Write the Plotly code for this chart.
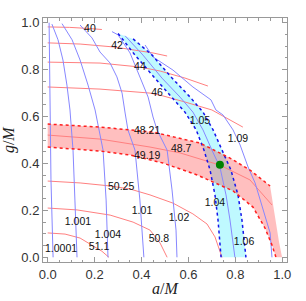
import plotly.graph_objects as go

# ---------------- red contours (a/M, g/M) ----------------
r40_a = [0.0, 0.094, 0.180, 0.231]
r40_g = [0.982, 0.980, 0.975, 0.971]
r42_a = [0.0, 0.138, 0.287, 0.449, 0.509]
r42_g = [0.914, 0.909, 0.896, 0.871, 0.858]
r44_a = [0.0, 0.223, 0.393, 0.479, 0.585, 0.683]
r44_g = [0.832, 0.828, 0.811, 0.794, 0.764, 0.730]
r46_a = [0.0, 0.223, 0.436, 0.491, 0.585, 0.700, 0.832]
r46_g = [0.726, 0.717, 0.700, 0.688, 0.662, 0.628, 0.555]
r4821_a = [0.0, 0.223, 0.449, 0.649, 0.777, 0.862, 0.948]
r4821_g = [0.568, 0.555, 0.534, 0.487, 0.423, 0.372, 0.304]
r487_a = [0.0, 0.223, 0.436, 0.564, 0.734, 0.862, 0.956]
r487_g = [0.521, 0.504, 0.470, 0.445, 0.393, 0.330, 0.223]
r4919_a = [0.0, 0.223, 0.351, 0.491, 0.637, 0.734, 0.790, 0.875, 0.926, 0.956, 0.973]
r4919_g = [0.470, 0.453, 0.436, 0.402, 0.351, 0.308, 0.283, 0.214, 0.125, 0.052, 0.0]
r5025_a = [0.0, 0.138, 0.266, 0.351, 0.436, 0.534, 0.619, 0.679, 0.713, 0.743]
r5025_g = [0.325, 0.317, 0.304, 0.291, 0.266, 0.231, 0.185, 0.142, 0.087, 0.0]
r508_a = [0.0, 0.125, 0.266, 0.364, 0.436, 0.479, 0.509]
r508_g = [0.210, 0.202, 0.180, 0.150, 0.116, 0.061, 0.0]
r511_a = [0.0, 0.074, 0.138, 0.189, 0.231, 0.261]
r511_g = [0.104, 0.099, 0.082, 0.052, 0.026, 0.0]
# outer edge of the red band (domain boundary)
edge_a = [0.948, 0.961, 0.973, 0.986, 0.999]
edge_g = [0.304, 0.223, 0.138, 0.065, 0.0]

# ---------------- blue contours ----------------
b10001_a = [0.006, 0.010, 0.014, 0.023]
b10001_g = [1.0, 0.671, 0.330, 0.0]
b1001_a = [0.018, 0.044, 0.065, 0.082, 0.095, 0.108, 0.116, 0.125]
b1001_g = [0.994, 0.927, 0.841, 0.734, 0.628, 0.457, 0.244, 0.0]
b1004_a = [0.061, 0.104, 0.138, 0.172, 0.202, 0.236, 0.249, 0.257]
b1004_g = [0.996, 0.927, 0.841, 0.734, 0.628, 0.457, 0.244, 0.0]
b101_a = [0.138, 0.189, 0.223, 0.266, 0.295, 0.317, 0.330, 0.342, 0.372, 0.393, 0.410]
b101_g = [0.990, 0.935, 0.875, 0.828, 0.769, 0.700, 0.615, 0.543, 0.457, 0.244, 0.0]
b102_a = [0.274, 0.300, 0.351, 0.393, 0.428, 0.449, 0.466, 0.509, 0.530, 0.547, 0.551]
b102_g = [0.962, 0.948, 0.871, 0.769, 0.683, 0.598, 0.543, 0.457, 0.287, 0.116, 0.0]
b104_a = [0.300, 0.372, 0.457, 0.530, 0.585, 0.633, 0.666, 0.692, 0.713, 0.726, 0.739]
b104_g = [0.954, 0.862, 0.764, 0.683, 0.619, 0.543, 0.457, 0.372, 0.266, 0.159, 0.0]
b105_a = [0.330, 0.406, 0.487, 0.564, 0.619, 0.662, 0.700, 0.734, 0.760, 0.777, 0.798]
b105_g = [0.944, 0.862, 0.764, 0.683, 0.619, 0.543, 0.457, 0.385, 0.266, 0.159, 0.0]
b106_a = [0.364, 0.445, 0.530, 0.607, 0.662, 0.705, 0.743, 0.781, 0.811, 0.828, 0.845]
b106_g = [0.931, 0.862, 0.764, 0.683, 0.619, 0.543, 0.457, 0.372, 0.266, 0.159, 0.0]
b109_a = [0.415, 0.449, 0.534, 0.619, 0.696, 0.717, 0.747, 0.790, 0.820, 0.854, 0.884, 0.918, 0.948, 0.956]
b109_g = [0.905, 0.854, 0.798, 0.726, 0.671, 0.628, 0.607, 0.543, 0.479, 0.385, 0.317, 0.202, 0.104, 0.0]

# best-fit point
pt_a = [0.734]
pt_g = [0.394]

# contour labels
lab_text = ["40", "42", "44", "46", "48.21", "48.7", "49.19", "50.25", "50.8", "51.1",
            "1.0001", "1.001", "1.004", "1.01", "1.02", "1.04", "1.05", "1.06", "1.09"]
lab_a = [0.180, 0.296, 0.393, 0.466, 0.424, 0.569, 0.424, 0.313, 0.474, 0.219,
         0.057, 0.129, 0.257, 0.402, 0.560, 0.713, 0.649, 0.837, 0.811]
lab_g = [0.973, 0.900, 0.811, 0.700, 0.538, 0.461, 0.432, 0.296, 0.078, 0.044,
         0.035, 0.150, 0.095, 0.197, 0.168, 0.231, 0.581, 0.065, 0.504]

tick_vals = [0.0, 0.2, 0.4, 0.6, 0.8, 1.0]
tick_text = ["0.0", "0.2", "0.4", "0.6", "0.8", "1.0"]

RED = "rgb(255,128,128)"
BLUE = "rgb(135,135,255)"
RED_D = "rgb(255,30,30)"
BLUE_D = "rgb(20,20,235)"

fig = go.Figure()

# cyan band (between 1.04 and 1.06)
fig.add_trace(go.Scatter(x=b104_a + b106_a[::-1], y=b104_g + b106_g[::-1],
                         fill="toself", fillcolor="rgba(0,230,255,0.25)",
                         line=dict(width=0), mode="lines", hoverinfo="skip"))
# red band (between 48.21 and 49.19)
fig.add_trace(go.Scatter(x=r4821_a + edge_a + r4919_a[::-1], y=r4821_g + edge_g + r4919_g[::-1],
                         fill="toself", fillcolor="rgba(255,0,0,0.25)",
                         line=dict(width=0), mode="lines", hoverinfo="skip"))

for xa, ya in [(r40_a, r40_g), (r42_a, r42_g), (r44_a, r44_g), (r46_a, r46_g),
               (r487_a, r487_g), (r5025_a, r5025_g), (r508_a, r508_g), (r511_a, r511_g)]:
    fig.add_trace(go.Scatter(x=xa, y=ya, mode="lines", line=dict(color=RED, width=1), hoverinfo="skip"))

for xa, ya in [(b10001_a, b10001_g), (b1001_a, b1001_g), (b1004_a, b1004_g), (b101_a, b101_g),
               (b102_a, b102_g), (b105_a, b105_g), (b109_a, b109_g)]:
    fig.add_trace(go.Scatter(x=xa, y=ya, mode="lines", line=dict(color=BLUE, width=1), hoverinfo="skip"))

for xa, ya in [(b104_a, b104_g), (b106_a, b106_g)]:
    fig.add_trace(go.Scatter(x=xa, y=ya, mode="lines",
                             line=dict(color=BLUE_D, width=1.5, dash="3px,3px"), hoverinfo="skip"))
for xa, ya in [(r4821_a, r4821_g), (r4919_a, r4919_g)]:
    fig.add_trace(go.Scatter(x=xa, y=ya, mode="lines",
                             line=dict(color=RED_D, width=1.5, dash="3px,3px"), hoverinfo="skip"))

fig.add_trace(go.Scatter(x=lab_a, y=lab_g, mode="text", text=lab_text,
                         textfont=dict(family="Liberation Sans, Arial", size=10.5, color="#111"),
                         hoverinfo="skip"))

fig.add_trace(go.Scatter(x=pt_a, y=pt_g, mode="markers",
                         marker=dict(color="rgb(0,130,0)", size=8), hoverinfo="skip"))

axis_common = dict(range=[-0.02, 1.02], tickvals=tick_vals, ticktext=tick_text,
                   ticks="inside", ticklen=5, tickcolor="#999", tickwidth=1,
                   showline=True, linecolor="#999", linewidth=1, mirror="allticks",
                   showgrid=False, zeroline=False, automargin=False,
                   tickfont=dict(family="Liberation Sans, Arial", size=13, color="#333"),
                   minor=dict(ticks="inside", ticklen=2.5, tickcolor="#999", dtick=0.05, tick0=0,
                              showgrid=False))

fig.update_layout(
    width=306, height=301,
    margin=dict(l=43, r=19, t=18, b=39),
    paper_bgcolor="white", plot_bgcolor="white",
    showlegend=False, hovermode=False,
    xaxis=axis_common, yaxis=axis_common,
    annotations=[
        dict(text="<i>a</i>/<i>M</i>", xref="paper", yref="paper", x=0.5, y=-0.107,
             xanchor="center", yanchor="middle",
             showarrow=False, font=dict(family="Liberation Serif", size=16, color="#222")),
        dict(text="<i>g</i>/<i>M</i>", xref="paper", yref="paper", x=-0.139, y=0.5,
             xanchor="center", yanchor="middle",
             textangle=-90, showarrow=False, font=dict(family="Liberation Serif", size=16, color="#222")),
    ],
)

# remove the default 8px page margin so the figure sits at the window's corner
fig.write_html("out.html", config={"displayModeBar": False, "staticPlot": True},
               post_script="document.body.style.margin='0';")
